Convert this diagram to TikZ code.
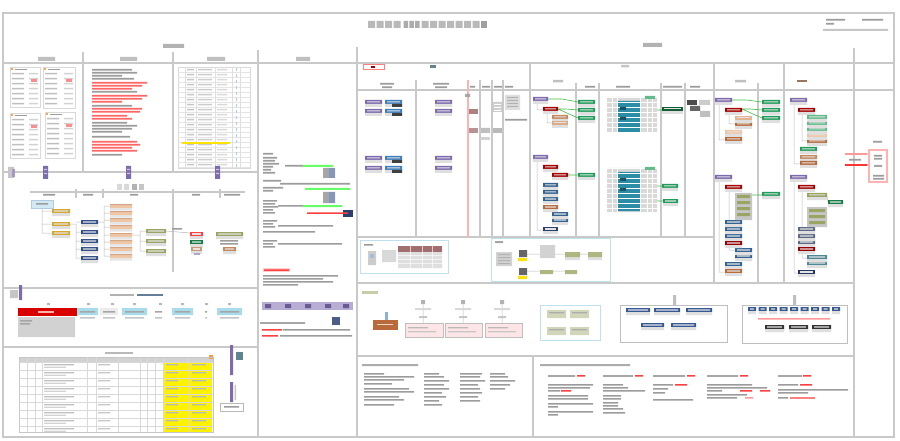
\documentclass[tikz,border=0pt]{standalone}
\usetikzlibrary{arrows.meta}
\definecolor{frm}{HTML}{C9C9C9}
\definecolor{tg}{HTML}{9C9C9C}
\definecolor{pur}{HTML}{7E6AAE}
\definecolor{blu}{HTML}{3C7DBE}
\definecolor{nav}{HTML}{34508A}
\definecolor{tea}{HTML}{2C8EA6}
\definecolor{grn}{HTML}{1E9E5A}
\definecolor{pea}{HTML}{EFC7A6}
\definecolor{brn}{HTML}{B86A3A}
\definecolor{gld}{HTML}{D6A833}
\definecolor{olv}{HTML}{9AA463}
\definecolor{cya}{HTML}{A9DCEB}
\definecolor{dkr}{HTML}{8A4B4B}
\definecolor{lbl}{HTML}{BFE0EE}
\colorlet{gA}{gray!15}\colorlet{gB}{gray!20}\colorlet{gC}{gray!25}\colorlet{gD}{gray!30}
\colorlet{gE}{gray!35}\colorlet{gF}{gray!40}\colorlet{gG}{gray!45}\colorlet{gH}{gray!50}
\colorlet{gI}{gray!55}\colorlet{gJ}{gray!60}\colorlet{gK}{gray!65}\colorlet{gL}{gray!70}\colorlet{gM}{gray!75}
\colorlet{rA}{red!20}\colorlet{rB}{red!30}\colorlet{rC}{red!40}\colorlet{rD}{red!45}\colorlet{rE}{red!50}
\colorlet{rF}{red!60}\colorlet{rG}{red!75}\colorlet{rH}{red!80}\colorlet{rK}{red!65!black}\colorlet{rL}{red!60!black}\colorlet{rM}{red!85!black}
\colorlet{orA}{orange!70}\colorlet{orB}{orange!80}
\colorlet{yeA}{yellow!85!orange}
\colorlet{bluA}{blu!40}\colorlet{bluB}{blu!50}\colorlet{bluC}{blu!60}\colorlet{bluG}{blu!40!gray}
\colorlet{purA}{pur!55}\colorlet{purB}{pur!60}\colorlet{purC}{pur!70}\colorlet{purD}{pur!85!black}\colorlet{purL}{white!60!pur}
\colorlet{lblA}{lbl!70}
\colorlet{navA}{nav!60}\colorlet{navD}{nav!80!black}\colorlet{navT}{nav!70!tea}\colorlet{navG}{nav!70!gray}
\colorlet{navB}{nav!80!blu}\colorlet{navH}{nav!50!gray}\colorlet{navK}{nav!70!black}
\colorlet{brnA}{brn!60}\colorlet{brnB}{brn!70}\colorlet{brnC}{brn!80}\colorlet{peaA}{pea!70!brn}\colorlet{peaB}{pea!80!brn}\colorlet{brnG}{brn!50!gray}
\colorlet{olvA}{olv!80}\colorlet{olvB}{olv!55}\colorlet{olvC}{olv!45}
\colorlet{grnK}{grn!80!black}\colorlet{grnA}{grn!70}\colorlet{grnD}{grn!60!black}
\colorlet{lgA}{green!60}\colorlet{lgG}{green!50!gray}
\colorlet{teaG}{tea!40!gray}\colorlet{teaD}{tea!60!black}\colorlet{teaH}{tea!30!gray}\colorlet{teaI}{tea!60!gray}
\colorlet{dkrA}{dkr!70}\colorlet{dkrB}{dkr!60}\colorlet{dkrC}{dkr!80}
\colorlet{kA}{black!60}\colorlet{kB}{black!70}\colorlet{kC}{black!75}\colorlet{kD}{black!80}
\colorlet{wR}{white!70!red}\colorlet{wB}{white!70!brn}\colorlet{pkA}{pink!40}\colorlet{inb}{white!78!gray}
\newcommand\mybars[2]{\fill[#1] \foreach \pa/\pb/\pc in {#2} {(\pa,\pb) rectangle ++(\pc,1.6)};}
\newcommand\myboxes[2]{\fill[#1] \foreach \pa/\pb/\pc in {#2} {(\pa,\pb) rectangle ++(\pc,4)};
 \fill[gC] \foreach \pa/\pb/\pc in {#2} {(\pa,\pb+4) rectangle ++(\pc,3)};
 \fill[inb] \foreach \pa/\pb/\pc in {#2} {(\pa+2,\pb+1.3) rectangle ++(\pc-4,1.2)};}
\newcommand\minitab[5]{%
 \draw[gD,line width=0.4pt] (#1,#2) rectangle ++(#3,#4);
 \fill[gH] \foreach \k in {1,...,#5} {(#1+2,#2+1+\k*5) rectangle ++(12,1.3)};
 \fill[gE] \foreach \k in {1,...,#5} {(#1+#3-11,#2+1+\k*5) rectangle ++(9,1.3)};
 \fill[orA] (#1+1,#2+1.5) rectangle ++(2,2);
 \fill[rD] (#1+#3-9,#2+12) rectangle ++(6,3);
 \fill[tg] (#1+5,#2+1.8) rectangle ++(12,1.5);}
\begin{document}
\begin{tikzpicture}[x=1pt,y=-1pt,
 frame/.style={draw=frm,line width=2.2pt},
 thinln/.style={draw=frm,line width=1.1pt},
 conn/.style={draw=gI,line width=0.5pt},
 gconn/.style={draw=lgG,line width=0.6pt}]
\fill[white] (0,0) rectangle (900,441);
\useasboundingbox (0,0) rectangle (900,441);
% ---------- frame and dividers
\draw[frame] (3,13) rectangle (894,437) (3,63)--(894,63) (357,47)--(357,437) (258,50)--(258,437)
 (83,52)--(83,172) (173,52)--(173,172) (3,172)--(258,172) (3,288)--(258,288) (3,347)--(258,347)
 (357,90)--(894,90) (530,63)--(530,237) (714,63)--(714,283) (784,63)--(784,283) (854,48)--(854,437)
 (357,237)--(714,237) (357,283)--(854,283) (357,356)--(854,356) (533,356)--(533,437);
\draw[thinln] \foreach \xx in {416,480,492,503} {(\xx,80)--(\xx,237)} \foreach \xx in {576,599,661,685} {(\xx,83)--(\xx,237)}
 (758,83)--(758,283) (30,192)--(245,192) (173,189)--(173,272) \foreach \xx in {76,103,220} {(\xx,189)--(\xx,198)};
\draw[rB,line width=1.5pt] (468,80)--(468,237);
% ---------- title
\fill[gI] \foreach \i in {0,...,3} {(368+\i*8.5,21) rectangle ++(7,7)} \foreach \i in {0,...,6} {(421.5+\i*8.5,21) rectangle ++(7,7)};
\fill[gK] \foreach \i in {0,...,2} {(403.5+\i*5.8,21) rectangle ++(4.5,7)};
\fill[gM] (481,21) rectangle ++(6,7);
\fill[gG] (823,29) rectangle (888,31) (621,65) rectangle ++(8,2.5);
\fill[gJ] (163,44) rectangle (184,48) (643,43) rectangle (662,47);
\fill[gH] (296,57) rectangle (310,61) (38,57) rectangle (55,61) (120,57) rectangle (137,61) (207,57) rectangle (225,61)
 (553,80) rectangle ++(10,2.5) (735,80) rectangle ++(11,2.5) (481,128) rectangle (490,133) (700,111) rectangle (710,117);
% ---------- left col 1
\minitab{10}{67}{30}{40}{7}
\minitab{43}{67}{32}{41}{7}
\minitab{10}{113}{30}{45}{8}
\minitab{45}{112}{30}{46}{8}
% ---------- left col 2
\mybars{tg}{92/69/40,92/72/45,92/75/30,92/78/42,92/91/45,92/105/40,92/122/35,92/125/45,92/128/40,92/131/30,92/136/38,92/154/30}
\mybars{rF}{92/82/55,92/85/50,92/88/40,92/95/55,92/98/50,92/101/30,92/108/50,92/111/48,92/115/35,92/118/40,92/141/45,92/144/48,92/147/40,92/150/45}
% ---------- left col 3 table
\draw[gD,line width=0.4pt] (178,67) rectangle (250,168);
\draw[gB,line width=0.3pt] \foreach \yy in {72,77,...,167} {(178,\yy)--(250,\yy)};
\draw[gC,line width=0.3pt] \foreach \xx in {185,196,215,232,240} {(\xx,67)--(\xx,168)};
\fill[gG] \foreach \yy in {69,74,...,164} {(187,\yy) rectangle ++(7,1.3)};
\fill[gF] \foreach \yy in {69,74,...,164} {(198,\yy) rectangle ++(14,1.3)};
\fill[gD] \foreach \yy in {69,74,...,164} {(217,\yy) rectangle ++(10,1.3)};
\fill[yeA] (182,142) rectangle (230,143.6);
\draw[bluA,dashed,line width=0.6pt] (236,68)--(236,167);
% purple markers
\fill[pur] \foreach \xx in {43,126,215} {(\xx,166) rectangle ++(5,13)} (19,285) rectangle (22,300) (230,345) rectangle (233,375) (230,382) rectangle (233,402);
\fill[purL] \foreach \xx in {43,126,215} {(\xx+1,169) rectangle ++(3,1.2) (\xx+1,173) rectangle ++(3,1.2)};
\fill[gG] (8,167) rectangle (14,178) (10,290) rectangle (18,298) (234.5,385) rectangle (236,400);
\fill[purC] (12,169) rectangle (15,177);
% ---------- left lower: flow area
\fill[gD] (117,184) rectangle ++(5,6) (124,184) rectangle ++(5,6) (382,250) rectangle (396,262);
\fill[gJ] (132,184) rectangle ++(5,6);
\fill[gG] (139,184) rectangle ++(5,6);
\node[fill=lblA,draw=bluA,line width=0.4pt,minimum width=22pt,minimum height=8pt,inner sep=0pt] (sys) at (42,204) {};
% all grey connectors
\draw[conn] (sys.south)--(42,233) (42,211)--(52,211) (42,224)--(52,224) (42,233)--(52,233)
 (70,224)--(76,224)--(76,258) \foreach \yy in {220,230,239,247,256} {(76,\yy+2)--(81,\yy+2)}
 (98,222)--(104,222) (104,206)--(104,256) \foreach \yy in {204,211,218,225,233,240,247,254} {(104,\yy+2)--(110,\yy+2)}
 (132,235)--(140,235) (140,231)--(140,251) \foreach \yy in {229,239,249} {(140,\yy+2)--(146,\yy+2)}
 (166,231)--(190,233)
 (537,104)--(537,110)--(543,110) (547,114)--(547,123)--(552,123) (537,162)--(537,230)--(543,230)
 (719,105)--(719,140)--(725,140) (729,115)--(729,124)--(735,124) (719,182)--(719,272)--(725,272) (729,192)--(729,250)--(735,250)
 (794,105)--(794,164)--(800,164) (802,115)--(802,141)--(807,141) (794,182)--(794,273)--(798,273) (802,192)--(802,258)--(807,258)
 (827,196)--(828,202)
 (527,254)--(540,254) (555,254)--(565,254) (580,254)--(588,254) (527,271)--(540,271) (553,271)--(565,271)
 \foreach \pc in {423,463,502} {(\pc,304)--(\pc,323)};
\draw[gconn] (548,99)--(562,99)--(578,102) (558,109)--(566,109)--(578,110) (558,109)--(578,118) (568,175)--(578,175)
 (657,110)--(662,110) (657,186)--(662,186) (657,201)--(663,201)
 (732,100)--(746,100)--(762,102) (742,109)--(750,109)--(762,110) (742,109)--(762,118) (752,195)--(762,195);
% peach boxes
\fill[pea] \foreach \yy in {204,211,218,225,233,240,247,254} {(110,\yy) rectangle ++(22,4)};
\fill[brnA] \foreach \yy in {204,211,218,225,233,240,247,254} {(110,\yy) rectangle ++(22,1)};
\fill[gB] \foreach \yy in {204,211,218,225,233,240,247,254} {(110,\yy+4) rectangle ++(22,2.5)};
% ---------- coloured label boxes
\myboxes{gld}{52/209/18,52/222/18,52/231/18}
\myboxes{nav}{81/220/17,81/230/17,81/239/17,81/247/17,81/256/17}
\myboxes{olv}{146/229/20,146/239/20,146/249/20,216/232/27,807/193/20}
\myboxes{rG}{190/232/13}
\myboxes{grnK}{190/240/13,828/200/15}
\myboxes{brnB}{191/247/11}
\myboxes{brnC}{223/247/13,552/115/16,800/155/17}
\myboxes{pur}{365/100/17,365/109/17,365/156/17,365/166/17,435/100/17,435/109/17,435/156/17,435/166/17,533/97/15,533/155/15,715/98/17,715/175/17,790/98/17,790/175/17}
\myboxes{blu}{385/100/17,385/109/17,385/156/17,385/166/17}
\myboxes{rK}{543/107/15,543/165/15,552/173/16,725/108/17,725/185/17,798/108/17,798/185/17}
\myboxes{peaA}{552/121/16}
\myboxes{grn}{578/100/17,578/108/17,578/116/17,578/173/17,662/184/16,663/199/15,762/100/18,762/108/18,762/116/18,762/192/18,800/147/17}
\myboxes{navT}{543/183/15,543/190/15,543/197/15,552/212/16,552/218/16,725/220/17,725/227/17,725/234/17,735/248/17,735/254/17,725/262/17}
\myboxes{brn}{543/205/15,735/122/17,725/137/17,725/269/17,807/139/20,800/161/17}
\myboxes{navD}{543/227/15}
\myboxes{peaB}{735/116/17}
\myboxes{pea}{725/130/17,807/133/20}
\myboxes{grnA}{807/115/20,807/121/20,807/127/20}
\myboxes{grnD}{662/107/21}
\myboxes{navH}{798/227/17,798/234/17,798/240/17}
\myboxes{rL}{725/241/17,798/247/17}
\myboxes{teaI}{807/255/20,807/261/20}
\myboxes{navK}{798/270/17}
\myboxes{navB}{626/308/24,654/308/26,686/308/26,641/323/23,671/323/25,748/307/8,758.5/307/8,769/307/8,779.5/307/8,790/307/8,800.5/307/8,811/307/8,821.5/307/8,832/307/8}
\myboxes{kD}{765/325/19,789/325/19,812/325/19}
\fill[kC] \foreach \yy in {100,109,156,166} {(392,\yy+4) rectangle ++(10,3)};
\fill[purB] (194,253) rectangle ++(6,2);
% ---------- left lower: row with red bar
\fill[gJ] (110,294) rectangle ++(24,2);
\fill[bluG] (137,294) rectangle ++(26,2);
\fill[gI] \foreach \xx in {47,87,111,133,159,181,205,228} {(\xx,303) rectangle ++(3,2)};
\fill[rM] (18,308) rectangle (77,316);
\fill[wR] (38,311) rectangle ++(16,1.5);
\fill[gE] (18,317) rectangle (75,337) (496,252) rectangle (512,266) (540,245) rectangle (555,258);
\fill[cya] (77,308) rectangle (98,315) (122,308) rectangle (147,315) (172,308) rectangle (193,315) (217,308) rectangle (242,315);
\fill[gA] (100,308) rectangle (118,315);
\fill[gL] (20,320) rectangle ++(12,1.5) (20,323) rectangle ++(10,1.5)
 \foreach \pa/\pb in {77/98,100/118,122/147,152/165,172/193,202/210,217/242} {(\pa+3,311) rectangle (\pb-3,312.5)};
\fill[gG] \foreach \pa/\pb in {77/98,100/118,122/147,152/165,172/193,202/210,217/242} {(\pa+3,317) rectangle (\pb-3,318.5)};
% ---------- left lower: table
\fill[gI] (105,352) rectangle ++(28,1.8);
\fill[yellow] (163,362) rectangle (212,432);
\fill[gE] (19,357) rectangle (213,362);
\fill[orB] (209,355) rectangle (213,359);
\draw[gG,line width=0.4pt] (19,357) rectangle (213,432);
\draw[gD,line width=0.3pt] \foreach \yy in {362,370,378,386,394,402,410,418,426} {(19,\yy)--(213,\yy)}
 \foreach \xx in {27,35,42,87,96,118,140,147,155,163,188} {(\xx,357)--(\xx,432)};
\fill[gH] \foreach \yy in {364,372,380,388,396,404,412,420,428} {(44,\yy) rectangle ++(30,1.3)};
\fill[gE] \foreach \yy in {364,372,380,388,396,404,412,420,428} {(44,\yy+2.5) rectangle ++(22,1.3)};
\fill[gG] \foreach \yy in {364,372,380,388,396,404,412,420,428} {(98,\yy) rectangle ++(12,1.3)};
\fill[gI] \foreach \yy in {364,372,380,388,396,404,412,420,428} {(166,\yy) rectangle ++(12,1.3) (192,\yy) rectangle ++(14,1.3)};
\fill[teaG] (236,352) rectangle (243,360);
\draw[gI,line width=0.5pt] (220,403) rectangle (243,411);
% ---------- column 4
\fill[lgA] (303,165) rectangle (333,167) (305,188) rectangle (350,190) (303,205) rectangle (342,207);
\fill[gL] (323,168) rectangle (329,178) (323,192) rectangle (329,203) (260,322) rectangle ++(45,1.8) (465,94) rectangle (470,97) (874,165) rectangle ++(8,2) (495,241) rectangle ++(8,2);
\fill[navA] (329,168) rectangle (335,178) (329,192) rectangle (335,203);
\fill[navD] (343,210) rectangle (353,217);
\fill[rA] (263,268) rectangle (290,272);
\fill[purA] (262,302) rectangle (353,310);
\fill[purD] \foreach \xx in {265,285,305,325,343} {(\xx,304) rectangle ++(6,4)};
\fill[navG] (332,317) rectangle (340,325);
% ---------- right section headers and small items
\draw[rE,line width=0.5pt] (363,64.5) rectangle (384,69.5);
\fill[rL] (371,66) rectangle ++(4,2);
\fill[teaH] (430,65) rectangle ++(6,3);
\fill[brnG] (797,80) rectangle ++(10,2.5);
\fill[dkrA] (469,109) rectangle (478,114);
\fill[dkrB] (469,128) rectangle (478,133);
\fill[gI] (493,128) rectangle (502,133);
\fill[gE] (480,137) rectangle (490,140);
\fill[gF] (493,102) rectangle (502,112) (699,100) rectangle (710,105) (368,251) rectangle (376,265);
\fill[white] \foreach \yy in {104,107,110} {(494,\yy) rectangle ++(7,0.8)};
\fill[gC] (505,95) rectangle (520,110) (398,246) rectangle (442,268) (565,257) rectangle (580,260) (588,257) rectangle (602,260);
\fill[gJ] \foreach \yy in {97,100,103,106} {(507,\yy) rectangle ++(11,1.2)} \foreach \yy in {254,257,260,263} {(498,\yy) rectangle ++(12,1.2)};
% teal grids
\fill[gD] (607,97) rectangle (657,133) (607,168) rectangle (657,212);
\fill[tea] (617,101) rectangle (640,132) (617,172) rectangle (640,211);
\draw[white,line width=0.3pt] \foreach \yy in {97,102,...,132} {(607,\yy)--(657,\yy)} \foreach \yy in {168,173,...,208} {(607,\yy)--(657,\yy)}
 \foreach \xx in {612,617,640,647,652} {(\xx,97)--(\xx,133) (\xx,168)--(\xx,212)};
\fill[teaD] (620,107) rectangle ++(6,3) (620,117) rectangle ++(6,3) (620,178) rectangle ++(6,3) (620,188) rectangle ++(6,3);
\fill[grnA] (645,96) rectangle ++(10,3) (645,167) rectangle ++(10,3);
\fill[kB] (687,100) rectangle (697,105);
\fill[kA] (690,106) rectangle (700,111) (519,250) rectangle ++(8,7) (519,268) rectangle ++(8,7);
\fill[gG] (735,193) rectangle (752,220) (807,207) rectangle (827,227);
\fill[olv] \foreach \yy in {195,201,207,213} {(737,\yy) rectangle ++(13,3)} \foreach \yy in {209,215,221} {(809,\yy) rectangle ++(16,3)};
% ---------- right-most panel
\node[draw=rB,line width=1.2pt,minimum width=18pt,minimum height=32pt,inner sep=0pt] (pk) at (878,166) {};
\coordinate (ra) at (845,154);
\coordinate (rb) at (845,165);
\draw[rC,line width=1.5pt,-{Stealth[length=3pt]}] (ra) -- (ra -| pk.west);
\draw[rH,line width=2pt,-{Stealth[length=3pt]}] (rb) -- (rb -| pk.west);
% ---------- right: boxes under 237
\draw[lbl,line width=1pt] (360,240) rectangle (448,273) (491,238) rectangle (610,281) (540,305) rectangle (600,340);
\fill[bluB] (370,254) rectangle (374,258);
\fill[dkrC] (398,246) rectangle (442,252);
\fill[white] \foreach \yy in {255,259,263} {(398,\yy) rectangle ++(44,0.7)} \foreach \xx in {410,422,432} {(\xx,246) rectangle ++(0.7,22)};
\fill[yeA] (518,258) rectangle ++(9,3) (518,276) rectangle ++(9,3);
\fill[olvA] (565,252) rectangle (580,257) (588,252) rectangle (602,257) (540,270) rectangle (553,274) (565,270) rectangle (577,274);
% ---------- right: middle band 283-356
\fill[olvB] (362,291) rectangle (378,294);
\fill[brn] (373,320) rectangle (398,330);
\fill[wB] (377,324) rectangle ++(16,1.4);
\fill[bluC] (384.5,312) rectangle (388,320);
\fill[pkA] (405,323) rectangle (443,337) (445,323) rectangle (482,337) (485,323) rectangle (522,337);
\draw[gH,line width=0.4pt] (405,323) rectangle (443,337) (445,323) rectangle (482,337) (485,323) rectangle (522,337);
\fill[gI] \foreach \pa in {405,445,485} {(\pa+3,327) rectangle ++(20,1.4)};
\fill[gG] \foreach \pa in {405,445,485} {(\pa+3,331) rectangle ++(28,1.4)} \foreach \pc in {423,463,502} {(\pc-4,316) rectangle ++(8,2)}
 \foreach \pa/\pb in {547/310,570/310,547/327,570/327} {(\pa+4,\pb+5) rectangle ++(11,1.3)};
\fill[gJ] \foreach \pc in {423,463,502} {(\pc-2,300) rectangle ++(4,4)};
\fill[gD] \foreach \pc in {423,463,502} {(\pc-8,308) rectangle ++(16,2)};
\fill[olvC] \foreach \pa/\pb in {547/310,570/310,547/327,570/327} {(\pa,\pb) rectangle ++(19,8)};
\fill[gK] \foreach \pa/\pb in {547/310,570/310,547/327,570/327} {(\pa+2,\pb+2) rectangle ++(15,1.3)} (362,364) rectangle ++(56,2) (540,364) rectangle ++(90,2);
\draw[gH,line width=1pt] (620,305) rectangle (727,342) (742,305) rectangle (847,343);
\fill[gH] (673,295) rectangle (676,305) (793,295) rectangle (796,305);
\fill[rC] (758,318) rectangle (830,319.5) (745,397) rectangle ++(8,1.6);
\fill[rE] (790,397) rectangle ++(25,1.6);
% ---------- text bars
\fill[gL] \foreach \pa/\pc in {548/27,603/30,653/32,707/31,778/24} {(\pa,375) rectangle ++(\pc,1.8)};
\mybars{rG}{262/329/20,262/335/16,577/375/8,635/375/8,687/375/8,740/375/8,803/375/8,561/390/10,675/384/12,740/390/12,760/390/10,800/384/12,264/269.3/25,307/212.3/41}
\mybars{tg}{826/19/19,862/19/21,826/23/8,
263/153/10,263/157/14,263/160/12,263/163/16,263/166/10,263/169/8,263/172/12,285/165/18,
263/180/18,263/187/20,263/190/10,280/183/70,
263/200/14,263/203/12,263/206/15,263/209/10,263/212/12,278/205/25,
263/220/14,263/223/10,263/226/12,278/225/55,263/231/52,
263/240/14,263/243/10,263/246/12,278/243/64,
263/275/75,263/278/60,263/281/70,263/284/35,283/329/67,280/335/72,
43/194/12,83/194/10,130/194/8,192/194/8,224/194/16,172/228/10,220/240/18,220/243/18,36/203/12,
224/406/15,380/83/14,382/86.5/10,433/83/16,435/86.5/12,470/86/5,482/86/8,494/86/8,505/86/8,585/86/10,616/86/14,663/86/19,690/86/10,
505/119/22,873/141/9,874/155/8,874/158/8,873/175/11,873/178/11,849/159/12,364/244/9}
\mybars{tg}{364/373/20,364/376/50,364/379/40,364/383/28,364/388/45,364/391/50,364/396/35,364/399/40,364/404/30,
424/373/15,424/376/20,424/380/25,424/384/20,424/388/25,424/392/18,424/396/22,424/400/15,424/404/18,
460/373/22,460/376/20,460/380/25,460/384/18,460/388/20,460/392/22,460/396/18,460/400/20,
490/373/15,490/376/18,490/380/25,490/384/20,490/388/15,
548/384/45,548/387/42,548/390/12,548/395/40,548/398/40,548/403/45,548/406/10,548/411/45,548/414/10,
603/384/20,603/387/25,603/390/42,603/395/18,603/398/18,603/402/15,603/405/15,603/408/20,603/412/22,
653/384/20,653/388/15,653/392/12,653/399/40,
707/384/45,707/387/60,707/390/15,707/394/40,707/397/30,
778/384/20,778/389/70,778/392/30,778/397/10}
\end{tikzpicture}
\end{document}
